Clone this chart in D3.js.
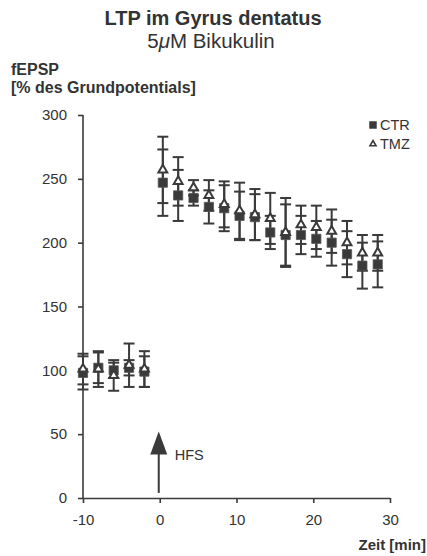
<!DOCTYPE html>
<html><head><meta charset="utf-8">
<script src="https://cdn.jsdelivr.net/npm/d3@7"></script>
<style>
body{margin:0;background:#fff;}
svg{display:block;font-family:"Liberation Sans",Arial,sans-serif;}
</style></head>
<body><svg id="c" width="427" height="556"></svg>
<script>
// Time points (min)
const times = [-10, -8, -6, -4, -2, 0.4, 2.4, 4.4, 6.4, 8.4, 10.4, 12.4, 14.4, 16.4, 18.4, 20.4, 22.4, 24.4, 26.4, 28.4];
// CTR mean and error
const ctrMean = [98, 102, 100, 102, 99, 247, 237, 235, 228, 227, 221, 220, 208, 206, 206, 203, 200, 191, 182, 183];
const ctrErr  = [13, 12, 6, 6, 12, 26, 20, 6, 13, 18, 19, 18, 13, 24, 15, 14, 18, 18, 18, 18];
// TMZ mean and error
const tmzMean = [101, 101, 96, 104, 101, 257, 248, 243, 237, 230, 225, 222, 219, 208, 214, 212, 209, 200, 192, 192];
const tmzErr  = [12, 14, 12, 17, 14, 26, 19, 6, 12, 18, 22, 20, 20, 27, 15, 17, 17, 17, 14, 14];
const xTicks = [-10, 0, 10, 20, 30];
const yTicks = [0, 50, 100, 150, 200, 250, 300];
const seriesNames = ["CTR", "TMZ"];

const col = "#3a3a3a";
const svg = d3.select("#c");
const x = d3.scaleLinear().domain([-10, 30]).range([83, 390]);
const y = d3.scaleLinear().domain([0, 300]).range([498, 115]);

// Titles
svg.append("text").attr("x", 213).attr("y", 25).attr("text-anchor", "middle")
  .attr("font-size", 20).attr("font-weight", "bold").attr("fill", "#333").text("LTP im Gyrus dentatus");
const sub = svg.append("text").attr("x", 211).attr("y", 48).attr("text-anchor", "middle")
  .attr("font-size", 20.5).attr("fill", "#333");
sub.append("tspan").text("5");
sub.append("tspan").attr("font-style", "italic").text("μ");
sub.append("tspan").text("M Bikukulin");

svg.append("text").attr("x", 11).attr("y", 75).attr("font-size", 16).attr("font-weight", "bold")
  .attr("fill", "#333").text("fEPSP");
svg.append("text").attr("x", 11).attr("y", 93).attr("font-size", 16).attr("font-weight", "bold")
  .attr("fill", "#333").text("[% des Grundpotentials]");
svg.append("text").attr("x", 426).attr("y", 550).attr("text-anchor", "end").attr("font-size", 15)
  .attr("font-weight", "bold").attr("fill", "#333").text("Zeit [min]");

// Axes
const yAxis = svg.append("g").attr("transform", "translate(83,0)")
  .call(d3.axisLeft(y).tickValues(yTicks).tickSize(5).tickPadding(11).tickSizeOuter(0));
const xAxis = svg.append("g").attr("transform", "translate(0,498)")
  .call(d3.axisBottom(x).tickValues(xTicks).tickFormat(d => String(d)).tickSize(5).tickPadding(11).tickSizeOuter(0));
[yAxis, xAxis].forEach(a => {
  a.selectAll("path,line").attr("stroke", col).attr("stroke-width", 1.6);
  a.selectAll("text").attr("font-size", 15).attr("fill", "#333")
    .attr("font-family", "Liberation Sans, Arial, sans-serif");
});
yAxis.select(".domain").attr("d", "M0,115V498");

// HFS arrow
const ax = x(0) - 1;
svg.append("line").attr("x1", ax).attr("x2", ax).attr("y1", y(4)).attr("y2", y(36))
  .attr("stroke", col).attr("stroke-width", 2);
svg.append("path")
  .attr("d", `M${ax},${y(52)}L${ax - 8.5},${y(34)}L${ax + 8.5},${y(34)}Z`).attr("fill", col);
svg.append("text").attr("x", ax + 16).attr("y", y(30)).attr("font-size", 14.5).attr("fill", "#333").text("HFS");

// Error bars
function errBars(mean, err) {
  const g = svg.append("g").attr("stroke", col).attr("stroke-width", 2);
  times.forEach((t, i) => {
    const cx = x(t), lo = y(mean[i] - err[i]), hi = y(mean[i] + err[i]);
    g.append("line").attr("x1", cx).attr("x2", cx).attr("y1", lo).attr("y2", hi);
    g.append("line").attr("x1", cx - 5.5).attr("x2", cx + 5.5).attr("y1", lo).attr("y2", lo);
    g.append("line").attr("x1", cx - 5.5).attr("x2", cx + 5.5).attr("y1", hi).attr("y2", hi);
  });
}
errBars(ctrMean, ctrErr);
errBars(tmzMean, tmzErr);

// Markers
const sq = d3.symbol().type(d3.symbolSquare).size(85);
const tri = d3.symbol().type(d3.symbolTriangle).size(34);
svg.append("g").selectAll("path").data(times).join("path")
  .attr("d", sq).attr("transform", (t, i) => `translate(${x(t)},${y(ctrMean[i])})`)
  .attr("fill", col).attr("stroke", "#555").attr("stroke-width", 0.8);
svg.append("g").selectAll("path").data(times).join("path")
  .attr("d", tri).attr("transform", (t, i) => `translate(${x(t)},${y(tmzMean[i])})`)
  .attr("fill", "#fff").attr("stroke", col).attr("stroke-width", 2);

// Legend
const lg = svg.append("g").attr("transform", "translate(373,0)");
lg.append("path").attr("d", d3.symbol().type(d3.symbolSquare).size(56)).attr("transform", "translate(0,125)").attr("fill", col);
lg.append("path").attr("d", d3.symbol().type(d3.symbolTriangle).size(16)).attr("transform", "translate(0,144)")
  .attr("fill", "#fff").attr("stroke", col).attr("stroke-width", 1.6);
lg.selectAll("text").data(seriesNames).join("text")
  .attr("x", 7).attr("y", (d, i) => 130 + i * 19).attr("font-size", 14.5)
  .attr("fill", "#333").text(d => d);
</script></body></html>
